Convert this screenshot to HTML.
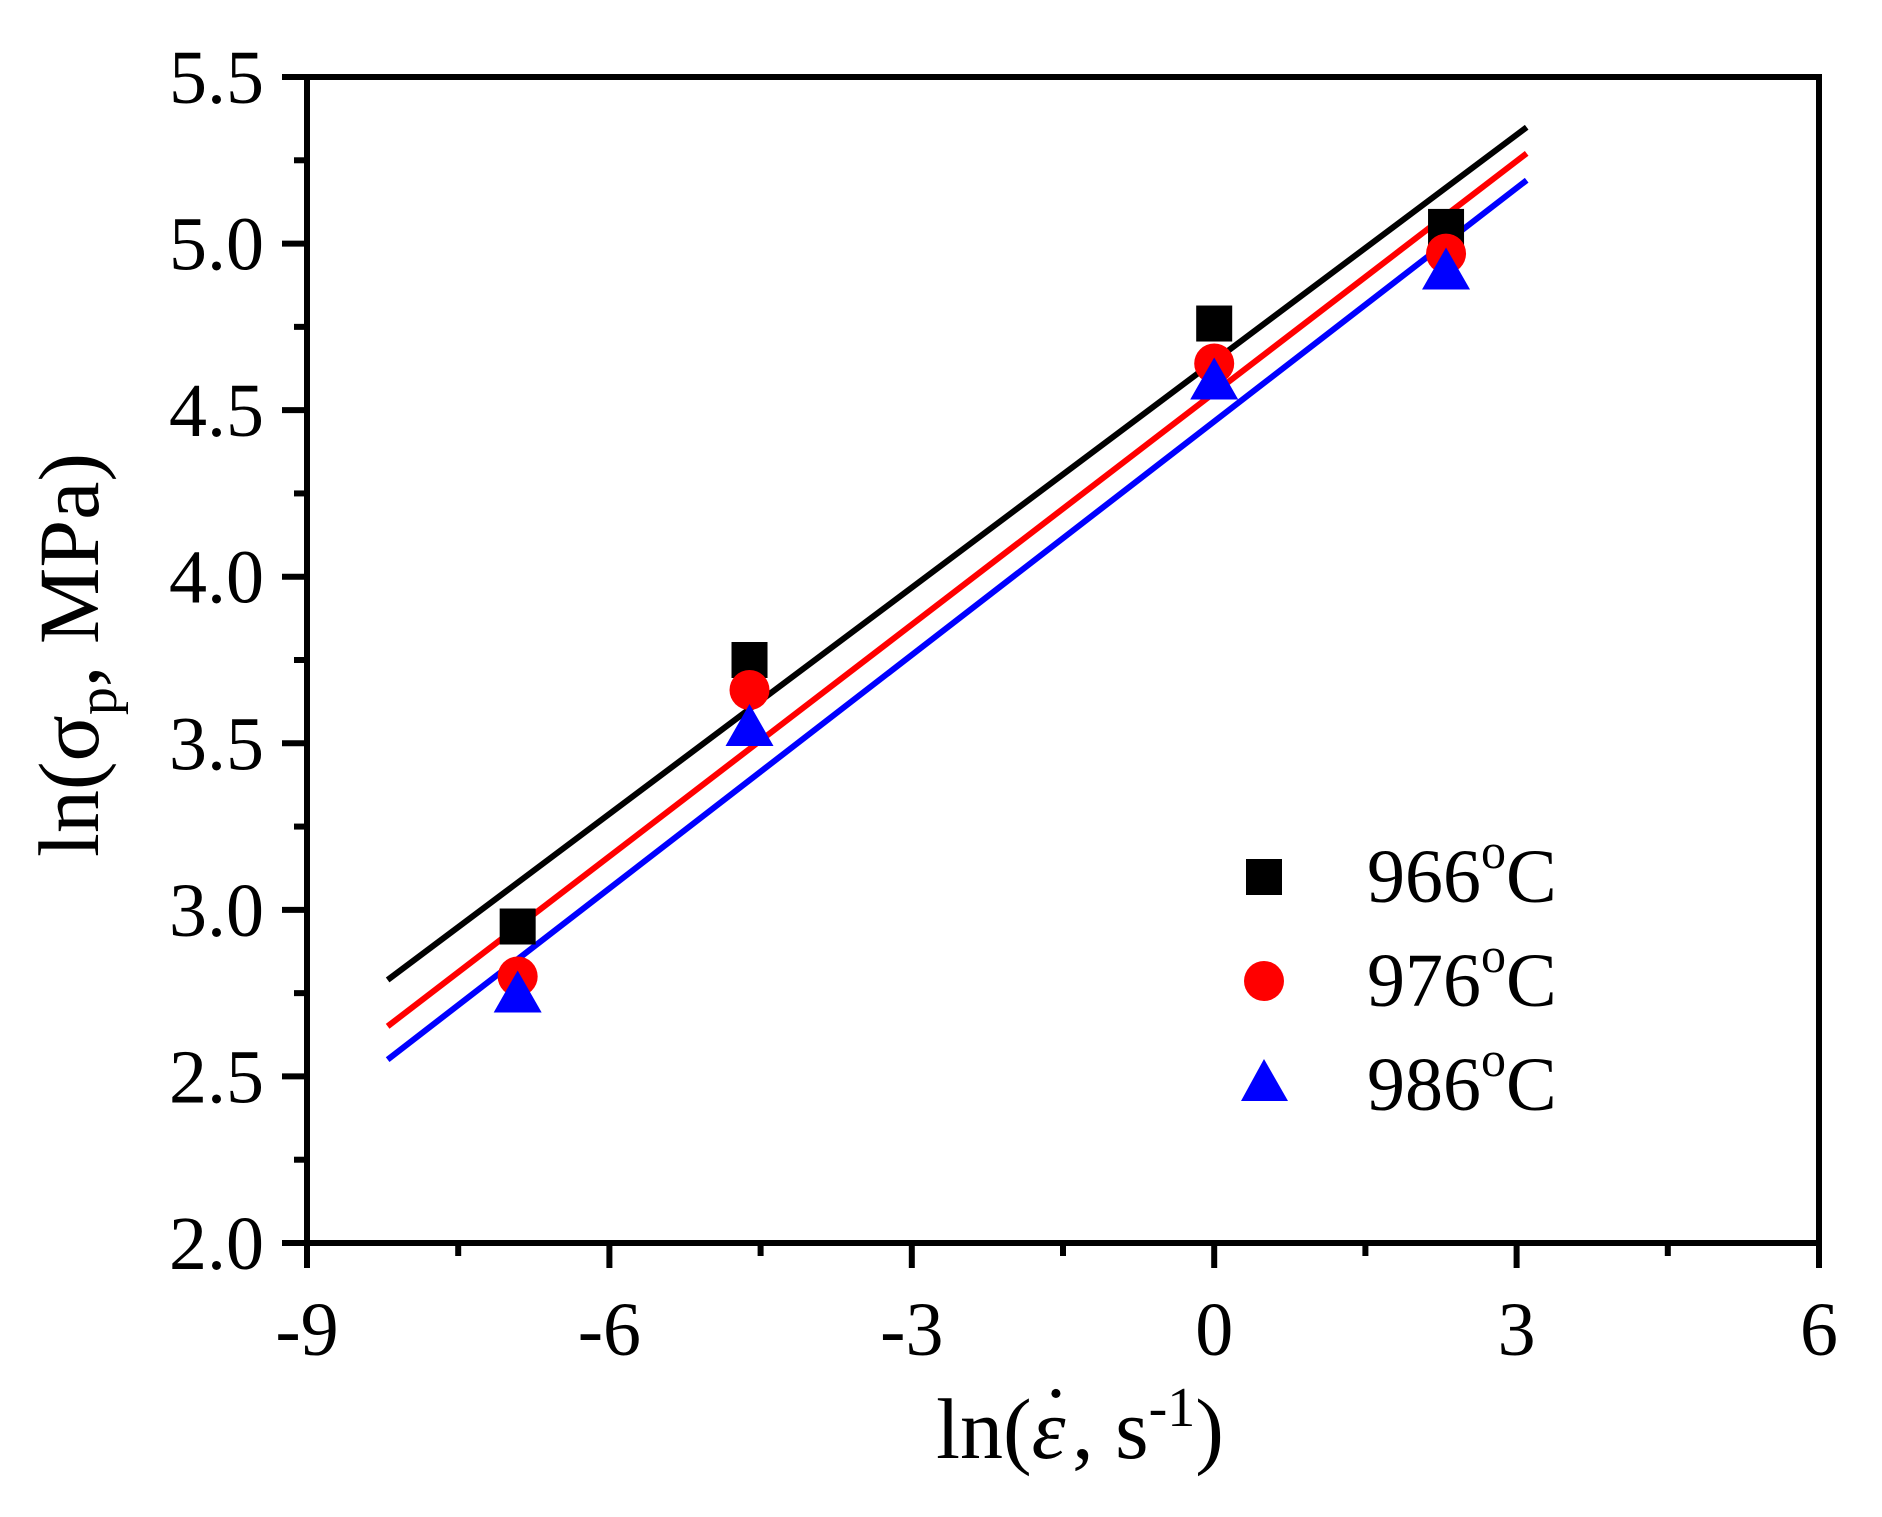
<!DOCTYPE html>
<html><head><meta charset="utf-8"><style>
html,body{margin:0;padding:0;background:#fff;}
svg{display:block;}
svg text{font-family:"Liberation Serif","Times New Roman",serif;}
</style></head><body>
<svg id="chart" width="1882" height="1517" viewBox="0 0 1882 1517" xmlns="http://www.w3.org/2000/svg">
<g id="lines"></g>
<g id="marks"></g>
<g id="axes"></g>
<text transform="translate(98,655) rotate(-90)" text-anchor="middle" font-size="86">ln(σ<tspan font-size="56" dy="18">p</tspan><tspan dy="-18">, MPa)</tspan></text>
<text x="1080" y="1458" text-anchor="middle" font-size="86">ln(<tspan font-style="italic">ε</tspan><tspan dx="-24" dy="-12">˙</tspan><tspan dx="2" dy="12">, s</tspan><tspan font-size="56" dy="-32">-1</tspan><tspan dy="32">)</tspan></text>
<g>
<rect x="1246" y="859" width="36" height="36" fill="#000"/>
<text x="1367" y="902" font-size="76">966<tspan font-size="50" dy="-34">o</tspan><tspan dy="34">C</tspan></text>
<circle cx="1264" cy="981" r="20" fill="#f00"/>
<text x="1367" y="1006" font-size="76">976<tspan font-size="50" dy="-34">o</tspan><tspan dy="34">C</tspan></text>
<polygon points="1264,1059 1288,1101 1241,1101" fill="#00f"/>
<text x="1367" y="1110" font-size="76">986<tspan font-size="50" dy="-34">o</tspan><tspan dy="34">C</tspan></text>
</g>
</svg>
<script>
const xValues = [-6.91, -4.61, 0, 2.30];
const y966 = [2.95, 3.75, 4.76, 5.05];
const y976 = [2.80, 3.66, 4.64, 4.97];
const y986 = [2.74, 3.54, 4.58, 4.91];
const fitSlopes = [0.2265, 0.2319, 0.2336];
const fitIntercepts = [4.647, 4.552, 4.466];
const fitRange = [-8.2, 3.1];
const xTicks = [-9, -6, -3, 0, 3, 6];
const yTicks = [2.0, 2.5, 3.0, 3.5, 4.0, 4.5, 5.0, 5.5];

const NS = "http://www.w3.org/2000/svg";
const L = 307, R = 1819, T = 77, B = 1243;
const sx = v => L + (v - (-9)) / 15 * (R - L);
const sy = v => B - (v - 2) / 3.5 * (B - T);
function mk(tag, attrs, parent) {
  const e = document.createElementNS(NS, tag);
  for (const k in attrs) e.setAttribute(k, attrs[k]);
  parent.appendChild(e);
  return e;
}
const axes = document.getElementById('axes');
const lines = document.getElementById('lines');
const marks = document.getElementById('marks');

const frame = mk('rect', {x: L, y: T, width: R - L, height: B - T, fill: 'none', stroke: '#000', 'stroke-width': 6}, axes);



xTicks.forEach((v, i) => {
  const t = mk('line', {x1: sx(v), x2: sx(v), y1: B, y2: B + 25, stroke: '#000', 'stroke-width': 6}, axes);
  
  
  const lb = mk('text', {x: sx(v), y: B + 112, 'text-anchor': 'middle', 'font-size': 76}, axes);
  
  
  lb.textContent = String(v);
  if (i < xTicks.length - 1) {
    const m = mk('line', {x1: sx(v + 1.5), x2: sx(v + 1.5), y1: B, y2: B + 13, stroke: '#000', 'stroke-width': 6}, axes);
    
    
  }
});
yTicks.forEach((v, i) => {
  const t = mk('line', {x1: L - 25, x2: L, y1: sy(v), y2: sy(v), stroke: '#000', 'stroke-width': 6}, axes);
  
  
  const lb = mk('text', {x: 264, y: sy(v) + 26, 'text-anchor': 'end', 'font-size': 76}, axes);
  
  
  lb.textContent = v.toFixed(1);
  if (i < yTicks.length - 1) {
    const m = mk('line', {x1: L - 13, x2: L, y1: sy(v + 0.25), y2: sy(v + 0.25), stroke: '#000', 'stroke-width': 6}, axes);
    
    
  }
});

const colors = ['#000', '#f00', '#00f'];
const fitNames = ['fit-line-966', 'fit-line-976', 'fit-line-986'];
fitSlopes.forEach((s, i) => {
  const b = fitIntercepts[i];
  const ln = mk('line', {x1: sx(fitRange[0]), y1: sy(b + s * fitRange[0]), x2: sx(fitRange[1]), y2: sy(b + s * fitRange[1]), stroke: colors[i], 'stroke-width': 6}, lines);
  
  
});

xValues.forEach((x, i) => {
  const cx = sx(x);
  let cy = sy(y966[i]);
  const sq = mk('rect', {x: cx - 18, y: cy - 18, width: 36, height: 36, fill: '#000'}, marks);
  
  
  cy = sy(y976[i]);
  const c = mk('circle', {cx: cx, cy: cy, r: 20, fill: '#f00'}, marks);
  
  
  cy = sy(y986[i]);
  const tr = mk('polygon', {points: `${cx},${cy - 26} ${cx + 24},${cy + 16} ${cx - 24},${cy + 16}`, fill: '#00f'}, marks);
  
  
});
</script>
</body></html>
